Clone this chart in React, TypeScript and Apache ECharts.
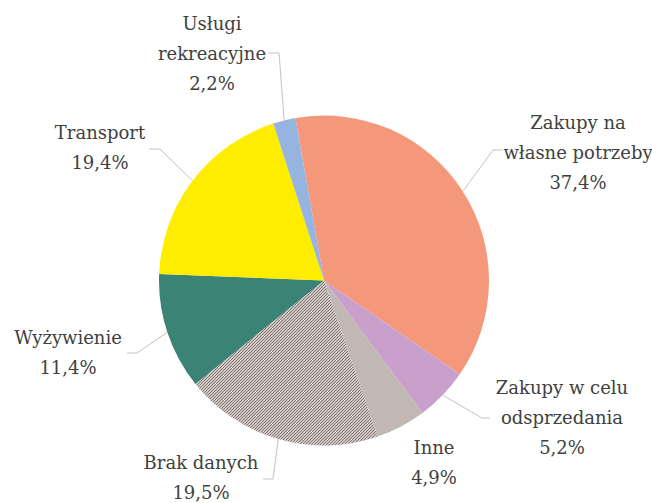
import React, { useEffect, useRef } from 'react';
import * as echarts from 'echarts';

const categories = [
  'Zakupy na\nwłasne potrzeby',
  'Zakupy w celu\nodsprzedania',
  'Inne',
  'Brak danych',
  'Wyżywienie',
  'Transport',
  'Usługi\nrekreacyjne',
];
const shares = [37.4, 5.2, 4.9, 19.5, 11.4, 19.4, 2.2];
const sliceColors = ['#F5977A', '#C99FCC', '#C2B8B3', 'hatch', '#3A8375', '#FFED00', '#95B4DF'];
const showLine = [true, true, false, true, true, true, true];

const labelCenters: number[][] = [
  [578, 152],
  [562, 417],
  [434, 462],
  [201, 477],
  [68, 352],
  [100, 147],
  [212, 53],
];
const labelLineEnds: (number[][] | null)[] = [
  [[493, 150], [502, 150]],
  [[482, 418], [490, 418]],
  null,
  [[273, 479], [263, 479]],
  [[137, 353], [127, 353]],
  [[160, 149], [149, 149]],
  [[279, 53], [268, 53]],
];

const FONT = 'DejaVu Serif';

function makeHatch(): string {
  const c = document.createElement('canvas');
  c.width = 3;
  c.height = 3;
  const ctx = c.getContext('2d')!;
  ctx.fillStyle = '#cfc8c5';
  ctx.fillRect(0, 0, 3, 3);
  ctx.fillStyle = '#857673';
  for (let i = 0; i < 3; i++) ctx.fillRect(i, 2 - i, 1, 1);
  return c.toDataURL();
}

const fmt = (v: number) => v.toFixed(1).replace('.', ',') + '%';

export default function App() {
  const ref = useRef<HTMLDivElement>(null);
  useEffect(() => {
    if (!ref.current) return;
    const chart = echarts.init(ref.current, undefined, { renderer: 'svg' });
    const hatch = makeHatch();
    const data = categories.map((name, i) => ({
      name,
      value: shares[i],
      itemStyle: {
        color: sliceColors[i] === 'hatch' ? { image: hatch, repeat: 'repeat' } : sliceColors[i],
      },
      labelLine: { show: showLine[i] },
    }));
    chart.setOption({
      animation: false,
      backgroundColor: '#ffffff',
      textStyle: { fontFamily: FONT },
      series: [
        {
          type: 'pie',
          center: [324, 280.5],
          radius: 165,
          startAngle: 100,
          clockwise: true,
          avoidLabelOverlap: false,
          data,
          itemStyle: { borderWidth: 0 },
          label: {
            show: true,
            position: 'outside',
            formatter: (p: any) => `${p.name}\n${fmt(p.value)}`,
            fontFamily: FONT,
            fontSize: 18,
            lineHeight: 30,
            color: '#404040',
            align: 'center',
          },
          labelLine: {
            show: true,
            length: 10,
            length2: 10,
            lineStyle: { color: '#C9C1BF', width: 1 },
          },
          labelLayout: (params: any) => {
            const i = params.dataIndex;
            const [x, y] = labelCenters[i];
            const res: any = { x, y, align: 'center', verticalAlign: 'middle' };
            const ends = labelLineEnds[i];
            if (ends && params.labelLinePoints) {
              res.labelLinePoints = [params.labelLinePoints[0], ends[0], ends[1]];
            }
            return res;
          },
          emphasis: { disabled: true },
        },
      ],
    });
    return () => chart.dispose();
  }, []);
  return (
    <div
      ref={ref}
      style={{ position: 'absolute', left: 0, top: 0, width: 652, height: 503 }}
    />
  );
}
